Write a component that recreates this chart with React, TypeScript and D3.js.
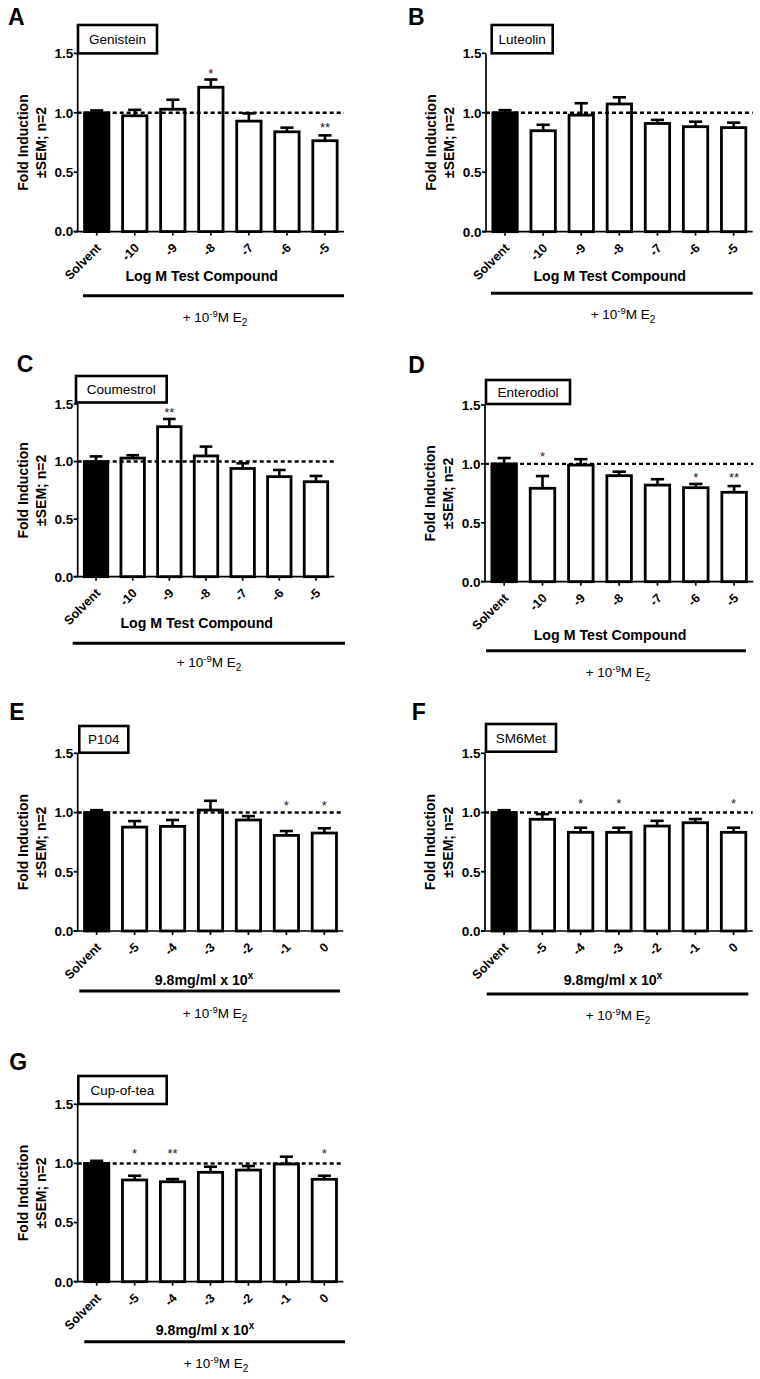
import React from 'react';
import * as d3 from 'd3';

// ---------- DATA ----------
const panelLetters = ['A', 'B', 'C', 'D', 'E', 'F', 'G'];
const compounds = ['Genistein', 'Luteolin', 'Coumestrol', 'Enterodiol', 'P104', 'SM6Met', 'Cup-of-tea'];
const logMCategories = ['Solvent', '-10', '-9', '-8', '-7', '-6', '-5'];
const mgCategories = ['Solvent', '-5', '-4', '-3', '-2', '-1', '0'];
const yTicks = [0, 0.5, 1.0, 1.5];
const referenceLevel = 1.0;

const genisteinMean = [1.0, 0.975, 1.03, 1.215, 0.93, 0.84, 0.765];
const genisteinSem = [0.02, 0.05, 0.08, 0.065, 0.065, 0.035, 0.045];
const genisteinSig = ['', '', '', '*', '', '', '**'];
const genisteinSigY = [0, 0, 0, 1.36, 0, 0, 0.9];

const luteolinMean = [1.0, 0.849, 0.98, 1.074, 0.91, 0.883, 0.875];
const luteolinSem = [0.022, 0.05, 0.1, 0.056, 0.03, 0.042, 0.042];
const luteolinSig = ['', '', '', '', '', '', ''];
const luteolinSigY = [0, 0, 0, 0, 0, 0, 0];

const coumestrolMean = [1.0, 1.03, 1.303, 1.049, 0.94, 0.869, 0.825];
const coumestrolSem = [0.045, 0.025, 0.067, 0.081, 0.045, 0.058, 0.05];
const coumestrolSig = ['', '', '**', '', '', '', ''];
const coumestrolSigY = [0, 0, 1.45, 0, 0, 0, 0];

const enterodiolMean = [1.0, 0.793, 0.99, 0.9, 0.82, 0.798, 0.759];
const enterodiolSem = [0.05, 0.104, 0.05, 0.034, 0.05, 0.032, 0.053];
const enterodiolSig = ['', '*', '', '', '', '*', '**'];
const enterodiolSigY = [0, 1.09, 0, 0, 0, 0.906, 0.906];

const p104Mean = [1.0, 0.877, 0.883, 1.021, 0.937, 0.807, 0.827];
const p104Sem = [0.02, 0.051, 0.054, 0.078, 0.033, 0.037, 0.04];
const p104Sig = ['', '', '', '', '', '*', '*'];
const p104SigY = [0, 0, 0, 0, 0, 1.083, 1.083];

const sm6metMean = [1.0, 0.943, 0.833, 0.833, 0.886, 0.914, 0.833];
const sm6metSem = [0.02, 0.044, 0.039, 0.039, 0.044, 0.031, 0.039];
const sm6metSig = ['', '', '*', '*', '', '', '*'];
const sm6metSigY = [0, 0, 1.1, 1.1, 0, 0, 1.1];

const cupOfTeaMean = [1.0, 0.86, 0.845, 0.925, 0.944, 0.995, 0.866];
const cupOfTeaSem = [0.022, 0.036, 0.023, 0.047, 0.034, 0.062, 0.03];
const cupOfTeaSig = ['', '*', '**', '', '', '', '*'];
const cupOfTeaSigY = [0, 1.113, 1.113, 0, 0, 0, 1.113];

const seriesMeans = [genisteinMean, luteolinMean, coumestrolMean, enterodiolMean, p104Mean, sm6metMean, cupOfTeaMean];
const seriesSems = [genisteinSem, luteolinSem, coumestrolSem, enterodiolSem, p104Sem, sm6metSem, cupOfTeaSem];
const seriesSig = [genisteinSig, luteolinSig, coumestrolSig, enterodiolSig, p104Sig, sm6metSig, cupOfTeaSig];
const seriesSigY = [genisteinSigY, luteolinSigY, coumestrolSigY, enterodiolSigY, p104SigY, sm6metSigY, cupOfTeaSigY];
const seriesCategories = [logMCategories, logMCategories, logMCategories, logMCategories, mgCategories, mgCategories, mgCategories];
const seriesUnits = ['logM', 'logM', 'logM', 'logM', 'mg', 'mg', 'mg'];

// ---------- LAYOUT ----------
type Layout = {
  axisX: number; xEnd: number; y0: number; y15: number;
  boxX: number; boxY: number; boxW: number; boxH: number;
  letterX: number; letterY: number;
  titleX: number; titleY: number;
  lineX1: number; lineX2: number; lineY: number;
  capX: number; capY: number;
};

const layouts: Layout[] = [
  { axisX: 77.7, xEnd: 344, y0: 231.6, y15: 53.4, boxX: 78, boxY: 25, boxW: 79, boxH: 28.4, letterX: 8, letterY: 24.5, titleX: 201.7, titleY: 280.5, lineX1: 83, lineX2: 344, lineY: 295.7, capX: 215, capY: 322 },
  { axisX: 486, xEnd: 752.7, y0: 231.7, y15: 53.3, boxX: 491.7, boxY: 25, boxW: 61, boxH: 28.3, letterX: 408, letterY: 24.5, titleX: 609.7, titleY: 280.5, lineX1: 491, lineX2: 752.7, lineY: 293.3, capX: 623, capY: 319 },
  { axisX: 77.7, xEnd: 334.3, y0: 576.7, y15: 404, boxX: 76, boxY: 376, boxW: 90.7, boxH: 26.5, letterX: 16.7, letterY: 371.7, titleX: 196.7, titleY: 628.3, lineX1: 72.7, lineX2: 345, lineY: 643.3, capX: 209, capY: 667 },
  { axisX: 485, xEnd: 753.3, y0: 581.7, y15: 405, boxX: 486, boxY: 380, boxW: 84, boxH: 24, letterX: 408.3, letterY: 373.3, titleX: 610, titleY: 640, lineX1: 486, lineX2: 746, lineY: 650.7, capX: 618, capY: 677 },
  { axisX: 77.7, xEnd: 343.3, y0: 931, y15: 753.3, boxX: 79.3, boxY: 726, boxW: 49, boxH: 26.7, letterX: 9.3, letterY: 720, titleX: 204, titleY: 985, lineX1: 79.3, lineX2: 340, lineY: 991, capX: 215, capY: 1018 },
  { axisX: 485, xEnd: 752.7, y0: 931, y15: 753.3, boxX: 486, boxY: 724, boxW: 70, boxH: 27.7, letterX: 411.7, letterY: 720, titleX: 613, titleY: 985, lineX1: 486.7, lineX2: 748.3, lineY: 994, capX: 618, capY: 1020 },
  { axisX: 77.7, xEnd: 343.3, y0: 1281.7, y15: 1104.3, boxX: 78.3, boxY: 1076, boxW: 88.4, boxH: 28, letterX: 9.3, letterY: 1070, titleX: 205, titleY: 1335, lineX1: 84.3, lineX2: 345, lineY: 1341.7, capX: 216, capY: 1368.3 },
];

const FONT = "'Liberation Sans', Arial, Helvetica, sans-serif";

function Panel({ idx }: { idx: number }) {
  const L = layouts[idx];
  const cats = seriesCategories[idx];
  const means = seriesMeans[idx];
  const sems = seriesSems[idx];
  const sig = seriesSig[idx];
  const sigY = seriesSigY[idx];

  const x = d3.scaleBand<string>().domain(cats).range([L.axisX, L.xEnd]).paddingInner(0.36).paddingOuter(0.18);
  const y = d3.scaleLinear().domain([0, 1.5]).range([L.y0, L.y15]);
  const bw = x.bandwidth();
  const cx = (c: string) => (x(c) as number) + bw / 2;
  const capHalf = bw * 0.27;
  const midY = (L.y0 + L.y15) / 2;

  return (
    <g fontFamily={FONT}>
      <text x={L.letterX} y={L.letterY} fontSize={23} fontWeight="bold">{panelLetters[idx]}</text>

      {/* y axis */}
      <line x1={L.axisX} x2={L.axisX} y1={L.y0} y2={L.y15} stroke="#000" strokeWidth={1.7} />
      {yTicks.map((t) => (
        <g key={t}>
          <line x1={L.axisX - 4} x2={L.axisX} y1={y(t)} y2={y(t)} stroke="#000" strokeWidth={1.7} />
          <text x={L.axisX - 4.5} y={y(t) + 4.8} fontSize={13.5} fontWeight="bold" textAnchor="end">{d3.format('.1f')(t)}</text>
        </g>
      ))}
      <text transform={`translate(${L.axisX - 50},${midY}) rotate(-90)`} fontSize={14} fontWeight="bold" textAnchor="middle">Fold Induction</text>
      <text transform={`translate(${L.axisX - 32},${midY}) rotate(-90)`} fontSize={14} fontWeight="bold" textAnchor="middle">±SEM; n=2</text>

      {/* bars */}
      {cats.map((c, i) => (
        <rect key={c} x={x(c)} y={y(means[i])} width={bw} height={L.y0 - y(means[i])}
          fill={i === 0 ? '#000' : '#fff'} stroke="#000" strokeWidth={2.8} />
      ))}
      {/* error bars */}
      {cats.map((c, i) => (
        <g key={c} stroke="#000" strokeWidth={2.6}>
          <line x1={cx(c)} x2={cx(c)} y1={y(means[i])} y2={y(means[i] + sems[i])} />
          <line x1={cx(c) - capHalf} x2={cx(c) + capHalf} y1={y(means[i] + sems[i])} y2={y(means[i] + sems[i])} />
        </g>
      ))}

      {/* x axis */}
      <line x1={L.axisX - 4} x2={L.xEnd} y1={L.y0} y2={L.y0} stroke="#000" strokeWidth={1.7} />
      {cats.map((c) => (
        <line key={c} x1={cx(c)} x2={cx(c)} y1={L.y0} y2={L.y0 + 4} stroke="#000" strokeWidth={1.7} />
      ))}

      {/* reference dashed line */}
      <line x1={L.axisX} x2={L.xEnd} y1={y(referenceLevel)} y2={y(referenceLevel)} stroke="#000" strokeWidth={2.4} strokeDasharray="4,3" />

      {/* significance */}
      {cats.map((c, i) => sig[i] ? (
        <text key={c} x={cx(c)} y={y(sigY[i]) + 7.5} fontSize={13} textAnchor="middle" fill="#222">{sig[i]}</text>
      ) : null)}

      {/* x tick labels */}
      {cats.map((c) => (
        <text key={c} transform={`translate(${cx(c) + 2},${L.y0 + 14}) rotate(-45)`} fontSize={12.5} fontWeight="bold" textAnchor="end" dy="0.35em">{c}</text>
      ))}

      {/* legend box */}
      <rect x={L.boxX} y={L.boxY} width={L.boxW} height={L.boxH} fill="#fff" stroke="#000" strokeWidth={2.6} />
      <text x={L.boxX + L.boxW / 2} y={L.boxY + L.boxH / 2 + 4.8} fontSize={13.5} textAnchor="middle">{compounds[idx]}</text>

      {/* x title */}
      {seriesUnits[idx] === 'logM' ? (
        <text x={L.titleX} y={L.titleY} fontSize={14.2} fontWeight="bold" textAnchor="middle">Log M Test Compound</text>
      ) : (
        <text x={L.titleX} y={L.titleY} fontSize={14.2} fontWeight="bold" textAnchor="middle">
          9.8mg/ml x 10<tspan dy={-6} fontSize={10}>x</tspan>
        </text>
      )}
      <line x1={L.lineX1} x2={L.lineX2} y1={L.lineY} y2={L.lineY} stroke="#000" strokeWidth={3} />
      <text x={L.capX} y={L.capY} fontSize={13.5} textAnchor="middle">
        + 10<tspan dy={-5} fontSize={9.5}>-9</tspan><tspan dy={5}>M E</tspan><tspan dy={3.5} fontSize={10}>2</tspan>
      </text>
    </g>
  );
}

export default function App() {
  return (
    <svg width={760} height={1379} viewBox="0 0 760 1379"
      style={{ position: 'absolute', left: 0, top: 0, background: '#fff', display: 'block' }}>
      <rect x={0} y={0} width={760} height={1379} fill="#fff" />
      {layouts.map((_, i) => <Panel key={i} idx={i} />)}
    </svg>
  );
}
